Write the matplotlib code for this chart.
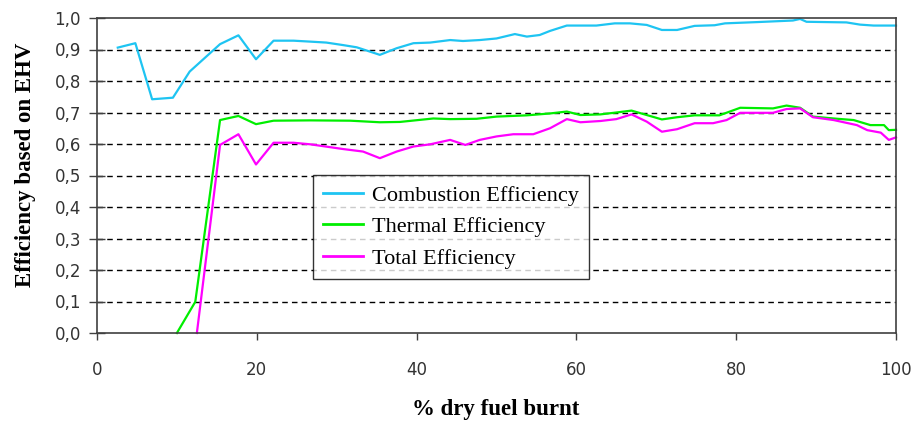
import matplotlib
matplotlib.use("Agg")
import matplotlib.pyplot as plt
from matplotlib.ticker import FuncFormatter

comb_x = [2.6, 4.8, 6.9, 9.5, 11.6, 15.4, 17.7, 19.9, 22.1, 24.6, 26.7, 28.7, 30.8, 32.5, 34.2,
          35.4, 37.5, 39.6, 41.7, 44.2, 45.8, 47.9, 50.0, 52.3, 53.8, 55.4, 56.7, 58.8, 62.5,
          64.8, 66.7, 68.8, 70.7, 72.6, 74.8, 77.3, 78.6, 82.6, 87.1, 88.0, 88.8, 93.8, 95.5,
          97.2, 100.0]
comb_y = [0.906, 0.920, 0.742, 0.747, 0.830, 0.917, 0.945, 0.869, 0.928, 0.928, 0.925, 0.922,
          0.914, 0.907, 0.893, 0.883, 0.904, 0.920, 0.922, 0.930, 0.927, 0.930, 0.935, 0.949,
          0.941, 0.946, 0.959, 0.976, 0.976, 0.983, 0.983, 0.978, 0.962, 0.962, 0.975, 0.977,
          0.983, 0.987, 0.992, 0.997, 0.988, 0.986, 0.979, 0.976, 0.976]

therm_x = [10.0, 12.3, 15.4, 17.7, 19.9, 22.1, 26.7, 31.7, 35.4, 37.9, 42.1, 44.2, 47.5, 50.0,
           53.8, 56.7, 58.8, 60.5, 63.0, 65.0, 66.9, 68.8, 70.7, 72.6, 74.8, 77.9, 80.5, 84.6,
           86.3, 88.0, 89.6, 92.2, 94.7, 96.8, 98.5, 99.1, 100.0]
therm_y = [0.0, 0.099, 0.676, 0.689, 0.663, 0.674, 0.675, 0.674, 0.669, 0.670, 0.681, 0.679,
           0.680, 0.687, 0.691, 0.697, 0.703, 0.692, 0.694, 0.700, 0.706, 0.692, 0.678, 0.685,
           0.691, 0.691, 0.715, 0.713, 0.722, 0.715, 0.687, 0.681, 0.676, 0.660, 0.660, 0.644,
           0.645]

total_x = [12.5, 15.4, 17.7, 19.9, 22.1, 24.6, 26.7, 30.8, 33.3, 35.4, 37.5, 39.6, 41.7, 44.2,
           46.1, 47.9, 50.0, 52.1, 54.6, 56.7, 58.8, 60.5, 63.0, 65.0, 66.9, 68.8, 70.7, 72.6,
           74.8, 77.1, 78.8, 80.5, 84.6, 86.3, 88.0, 89.6, 92.2, 95.1, 96.4, 98.1, 99.1, 100.0]
total_y = [0.0, 0.597, 0.631, 0.535, 0.604, 0.604, 0.599, 0.584, 0.576, 0.555, 0.576, 0.592,
           0.599, 0.613, 0.597, 0.613, 0.624, 0.631, 0.631, 0.650, 0.679, 0.669, 0.673, 0.679,
           0.694, 0.671, 0.639, 0.647, 0.666, 0.666, 0.676, 0.699, 0.699, 0.711, 0.713, 0.685,
           0.676, 0.660, 0.644, 0.636, 0.613, 0.621]

x_ticks = [0, 20, 40, 60, 80, 100]
y_ticks = [0.0, 0.1, 0.2, 0.3, 0.4, 0.5, 0.6, 0.7, 0.8, 0.9, 1.0]

fig = plt.figure(figsize=(9.16, 4.28), dpi=100)
ax = fig.add_axes([97 / 916, 1 - 333 / 428, (896 - 97) / 916, (333 - 18) / 428])

ax.plot(comb_x, comb_y, color="#1EC4F2", lw=1.6, label="Combustion Efficiency", clip_on=False)
ax.plot(therm_x, therm_y, color="#00EE00", lw=1.6, label="Thermal Efficiency", clip_on=False)
ax.plot(total_x, total_y, color="#FF00FF", lw=1.6, label="Total Efficiency", clip_on=False)

ax.set_xlim(0, 100)
ax.set_ylim(0, 1.0)
ax.set_xticks(x_ticks)
ax.set_yticks(y_ticks)
ax.yaxis.set_major_formatter(FuncFormatter(lambda v, p: f"{v:.1f}".replace(".", ",")))

for v in y_ticks[1:-1]:
    ax.axhline(v, color="black", lw=1.0, ls=(0, (4, 3)), zorder=0)

for s in ax.spines.values():
    s.set_color("#404040")
    s.set_linewidth(1.2)

ax.tick_params(axis="y", direction="inout", length=11, width=1, color="#404040",
               labelsize=12, labelcolor="#333333", pad=6)
ax.tick_params(axis="x", direction="out", length=5, width=1, color="#404040",
               labelsize=12, labelcolor="#333333", pad=15)

ax.set_xlabel("% dry fuel burnt", family="Liberation Serif", fontweight="bold",
              fontsize=16.5)
ax.set_ylabel("Efficiency based on EHV", family="Liberation Serif", fontweight="bold",
              fontsize=16.5)
ax.xaxis.set_label_coords(496 / 916 * 916 / 799 - 97 / 799, -(410 - 333) / 315)
ax.yaxis.set_label_coords(-(97 - 26) / 799, (333 - 165) / 315)
ax.xaxis.label.set_verticalalignment("center")
ax.yaxis.label.set_verticalalignment("center")

leg = ax.legend(loc="upper left", bbox_to_anchor=((313 - 97) / 799, (333 - 175) / 315),
                frameon=True, fancybox=False, borderaxespad=0,
                edgecolor="black", prop={"family": "Liberation Serif", "size": 16},
                handlelength=1.8, borderpad=0.45, labelspacing=0.5, handletextpad=0.4)
leg.get_frame().set_linewidth(1.0)
for h in leg.get_lines():
    h.set_linewidth(2.0)

fig.savefig("out.png", dpi=100)
